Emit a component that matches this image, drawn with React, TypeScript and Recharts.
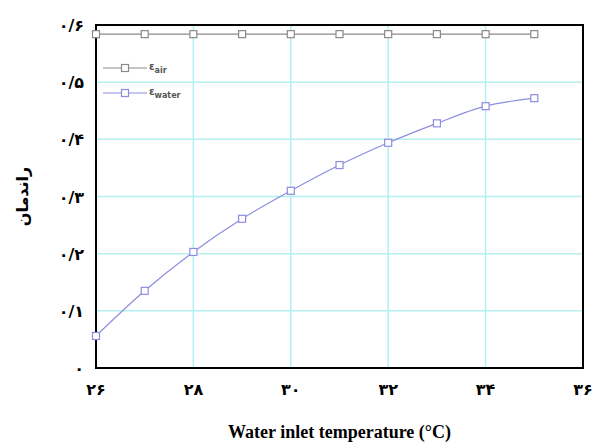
import React from "react";
import {
  LineChart,
  Line,
  XAxis,
  YAxis,
  CartesianGrid,
  ReferenceArea,
} from "recharts";

const temps = [26, 27, 28, 29, 30, 31, 32, 33, 34, 35];
const effAir = [0.584, 0.584, 0.584, 0.584, 0.584, 0.584, 0.584, 0.584, 0.584, 0.584];
const effWater = [0.056, 0.135, 0.203, 0.261, 0.31, 0.355, 0.394, 0.428, 0.458, 0.472];

const xTicks = [26, 28, 30, 32, 34, 36];
const xTickLabels = ["۲۶", "۲۸", "۳۰", "۳۲", "۳۴", "۳۶"];
const yTicks = [0, 0.1, 0.2, 0.3, 0.4, 0.5, 0.6];
const yTickLabels = ["۰", "۰/۱", "۰/۲", "۰/۳", "۰/۴", "۰/۵", "۰/۶"];

const data = temps.map((t, i) => ({ t, air: effAir[i], water: effWater[i] }));

const AIR = "#8a8a8a";
const WATER = "#8c8ce0";
const GRID = "#b4f0f0";
const FONT = "'DejaVu Sans', sans-serif";

const squareDot = (color: string) => (props: any) => {
  const { cx, cy, index } = props;
  if (cx == null || cy == null) return <g key={index} />;
  return (
    <rect
      key={index}
      x={cx - 3.5}
      y={cy - 3.5}
      width={7}
      height={7}
      fill="#fff"
      stroke={color}
      strokeWidth={1.2}
    />
  );
};

const XTick = (props: any) => {
  const { x, y, payload } = props;
  const i = xTicks.indexOf(payload.value);
  return (
    <text x={x} y={y + 19} textAnchor="middle" fontFamily={FONT} fontWeight="bold" fontSize={16} fill="#000">
      {xTickLabels[i]}
    </text>
  );
};

const YTick = (props: any) => {
  const { x, y, payload } = props;
  const i = yTicks.findIndex((v) => Math.abs(v - payload.value) < 1e-6);
  return (
    <text x={x - 4} y={y + 6} textAnchor="end" fontFamily={FONT} fontWeight="bold" fontSize={16} fill="#000" direction="ltr">
      {yTickLabels[i]}
    </text>
  );
};

function LegendBox() {
  const rows = [
    { color: AIR, sub: "air" },
    { color: WATER, sub: "water" },
  ];
  return (
    <div style={{ position: "absolute", left: 95, top: 47, fontFamily: FONT, fontSize: 10, fontWeight: "bold", color: "#555" }}>
      {rows.map((r) => (
        <div key={r.sub} style={{ display: "flex", alignItems: "center", height: 25 }}>
          <svg width={44} height={10}>
            <line x1={0} y1={5} x2={44} y2={5} stroke={r.color} strokeWidth={1.2} />
            <rect x={18.5} y={1.5} width={7} height={7} fill="#fff" stroke={r.color} strokeWidth={1.2} />
          </svg>
          <span style={{ marginLeft: 2 }}>
            ε<sub style={{ fontSize: 8 }}>{r.sub}</sub>
          </span>
        </div>
      ))}
    </div>
  );
}

export default function App() {
  return (
    <div style={{ position: "absolute", left: 8, top: 8, width: 588, height: 436 }}>
      <LineChart width={588} height={436} data={data} margin={{ top: 17, right: 13, bottom: 0, left: 0 }}>
        <CartesianGrid stroke={GRID} strokeWidth={1.5} />
        <XAxis
          dataKey="t"
          type="number"
          domain={[26, 36]}
          ticks={xTicks}
          tick={<XTick />}
          tickLine={false}
          axisLine={{ stroke: "#000", strokeWidth: 2 }}
          height={76}
          label={{
            value: "Water inlet temperature (°C)",
            position: "insideBottom",
            offset: 6,
            style: { fontFamily: "'Liberation Serif', serif", fontWeight: "bold", fontSize: 18, fill: "#000" },
          }}
        />
        <YAxis
          type="number"
          domain={[0, 0.6]}
          ticks={yTicks}
          tick={<YTick />}
          tickLine={false}
          axisLine={{ stroke: "#000", strokeWidth: 2 }}
          width={88}
          label={{
            value: "راندمان",
            angle: -90,
            position: "insideLeft",
            offset: 14,
            style: { fontFamily: FONT, fontWeight: "bold", fontSize: 16, fill: "#000", textAnchor: "middle" },
          }}
        />
        <ReferenceArea x1={26} x2={36} y1={0} y2={0.6} fill="none" stroke="#000" strokeWidth={2} ifOverflow="visible" />
        <Line
          type="monotone"
          dataKey="air"
          stroke={AIR}
          strokeWidth={1.2}
          dot={squareDot(AIR)}
          isAnimationActive={false}
        />
        <Line
          type="monotone"
          dataKey="water"
          stroke={WATER}
          strokeWidth={1.2}
          dot={squareDot(WATER)}
          isAnimationActive={false}
        />
      </LineChart>
      <LegendBox />
    </div>
  );
}
